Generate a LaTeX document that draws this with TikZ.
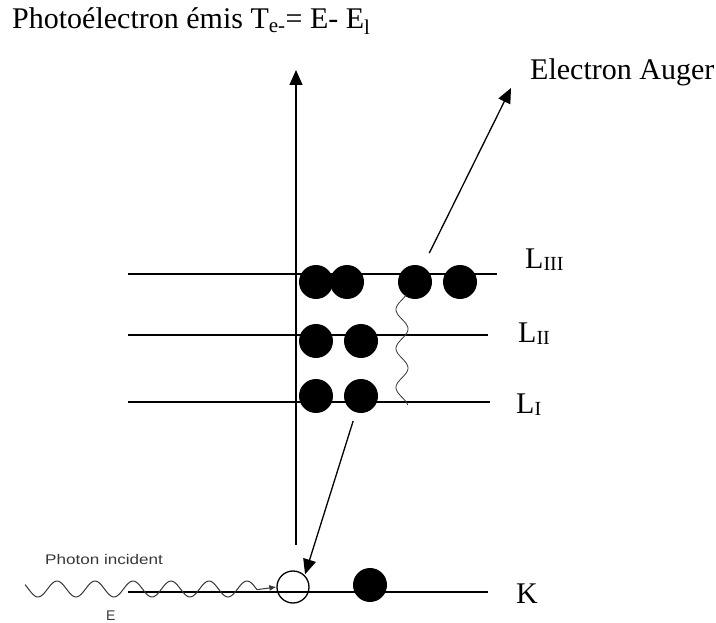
\documentclass[tikz,border=0pt]{standalone}
\usepackage{fontspec}
\setmainfont{Liberation Serif}
\newfontfamily\photonfont{Liberation Sans}
\usetikzlibrary{arrows.meta}
\definecolor{cPhoton}{RGB}{55,55,55}

\tikzset{
  electron/.style={circle,fill=black,inner sep=0pt,minimum size=34pt},
  trou/.style={circle,draw=black,line width=1.3pt,inner sep=0pt,minimum size=32pt},
  niveau/.style={line width=1.6pt},
  fleche/.style={line width=1.3pt,-{Triangle[length=15pt,width=13pt]}},
  lbl/.style={anchor=base west,inner sep=0pt,font=\fontsize{30}{32}\selectfont},
  petit/.style={anchor=base west,inner sep=0pt,text=cPhoton,font=\photonfont\fontsize{14}{16}\selectfont}
}
\newcommand{\sousniv}[1]{\raisebox{-2pt}{\fontsize{20}{20}\selectfont #1}}

\begin{document}
\begin{tikzpicture}[x=1pt,y=-1pt]
\useasboundingbox (0,0) rectangle (716,623);
\node[lbl] (titre) at (12,29) {Photoélectron émis T\textsubscript{e-}= E- E\textsubscript{l}};
% axe
\coordinate (ax0) at (296,545); \coordinate (ax1) at (296,70);
\draw[line width=1.5pt,-{Triangle[length=15pt,width=13pt]}] (ax0)--(ax1);
% niveaux
\draw[niveau] (128,274)--(497,274); \node[lbl] (LIII) at (525,269){L\sousniv{III}};
\draw[niveau] (128,335)--(488,335); \node[lbl] (LII) at (518,342){L\sousniv{II}};
\draw[niveau] (128,402)--(490,402); \node[lbl] (LI) at (516,413){L\sousniv{I}};
\draw[niveau] (128,592)--(488,592); \node[lbl] (K) at (516,603){K};
% electrons
\node[electron] (l3a) at (316,282){}; \node[electron] (l3b) at (347,282){};
\node[electron] (l3c) at (415,282){}; \node[electron] (l3d) at (460,282){};
\node[electron] (l2a) at (316,341){}; \node[electron] (l2b) at (361,341){};
\node[electron] (l1a) at (316,396){}; \node[electron] (l1b) at (361,396){};
\node[trou] (k0) at (293,587){}; \node[electron] (k1) at (370,585){};
% transitions
\draw[fleche,shorten <=9pt,shorten >=1pt] (l1b)--(k0.north east);
\draw[line width=0.8pt,cPhoton,domain=295:405,samples=90,smooth] plot ({402+6*cos((\x-329)/39*360)},\x);
\node[lbl] (auger) at (530,80){Electron Auger};
\coordinate (augtip) at (511,88);
\draw[fleche,shorten <=15pt] (l3c)--(augtip);
% photon incident
\node[petit] (photon) at (45,564){\scalebox{1.22}[1]{Photon incident}};
\node[petit] (E) at (106,620){E};
\draw[line width=1pt,cPhoton,-{Latex[length=7pt,width=6pt]}] plot[domain=25:257,samples=120,smooth] (\x,{589-8*cos((\x-57)/38*360)}) -- (k0.west);
\end{tikzpicture}
\end{document}
